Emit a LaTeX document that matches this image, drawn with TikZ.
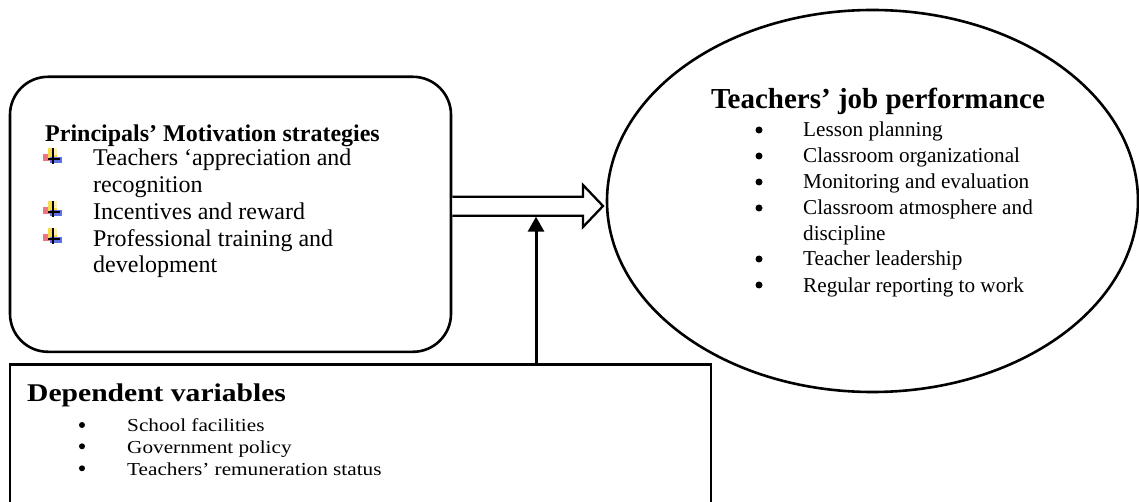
\documentclass[tikz,border=0pt]{standalone}
\usepackage{fontspec}
\setmainfont{Liberation Serif}
\newfontfamily\widefont[FakeStretch=1.16]{Liberation Serif}
\usetikzlibrary{shapes.geometric,arrows.meta}
\definecolor{icyellow}{HTML}{F4DA4C}
\definecolor{icred}{HTML}{E8485A}
\definecolor{icblue}{HTML}{3A4BE0}
\tikzset{
  wicon/.pic={
    \fill[icred!75] (-10,-2) rectangle (-1,5);
    \fill[icyellow] (-5,-8) rectangle (4,2);
    \fill[icyellow!40] (0,-8) rectangle (4,-1);
    \fill[icblue!80] (-3,1) rectangle (9,7);
    \draw[line width=1.4pt] (0,-8) -- (0,8);
    \draw[line width=1.4pt] (-5,3) -- (7,3);
  }
}
\begin{document}
\begin{tikzpicture}[x=1pt,y=-1pt,
  box/.style={draw, line width=2.6pt, inner sep=0pt},
  txt/.style={anchor=base west, inner sep=0pt},
  dot/.style={circle, fill, inner sep=0pt, minimum size=7pt},
  sdot/.style={circle, fill, inner sep=0pt, minimum size=6pt},
  ltxt/.style={txt, font=\fontsize{24}{27}\selectfont},
  etxt/.style={txt, font=\fontsize{21.2}{25}\selectfont},
  dtxt/.style={txt, font=\widefont\fontsize{18.3}{21}\selectfont},
]
\useasboundingbox (0,0) rectangle (1139,502);
\clip (0,0) rectangle (1139,502);

% shapes
\node[box, rounded corners=38pt, minimum width=441pt, minimum height=275pt] (mot) at (230.5,214.3) {};
\node[box, ellipse, minimum width=531pt, minimum height=382pt] (perf) at (872.5,201) {};
\node[box, line width=2.8pt, minimum width=701pt, minimum height=195pt] (dep) at (360.5,462) {};

% left box text
\node[txt, font=\bfseries\fontsize{24}{27}\selectfont] (mtitle) at (45,142) {Principals’ Motivation strategies};
\pic (i1) at (53,156) {wicon};
\node[ltxt] (m1a) at (93,166) {Teachers ‘appreciation and};
\node[ltxt] (m1b) at (93,192.7) {recognition};
\pic (i2) at (53,209) {wicon};
\node[ltxt] (m2) at (93,219.4) {Incentives and reward};
\pic (i3) at (53,236) {wicon};
\node[ltxt] (m3a) at (93,246.1) {Professional training and};
\node[ltxt] (m3b) at (93,272.8) {development};

% ellipse text
\node[anchor=base, inner sep=0pt, font=\bfseries\fontsize{29}{32}\selectfont] (ptitle) at (878,109) {Teachers’ job performance};
\node[dot] (pb1) at (759,130) {};
\node[etxt] (p1) at (803,137) {Lesson planning};
\node[dot] (pb2) at (759,156) {};
\node[etxt] (p2) at (803,163) {Classroom organizational};
\node[dot] (pb3) at (759,182) {};
\node[etxt] (p3) at (803,189) {Monitoring and evaluation};
\node[dot] (pb4) at (759,208) {};
\node[etxt] (p4a) at (803,215) {Classroom atmosphere and};
\node[etxt] (p4b) at (803,240.5) {discipline};
\node[dot] (pb5) at (759,259) {};
\node[etxt] (p5) at (803,266) {Teacher leadership};
\node[dot] (pb6) at (759,285) {};
\node[etxt] (p6) at (803,292) {Regular reporting to work};

% bottom box text
\node[txt, font=\widefont\bfseries\fontsize{25.5}{28}\selectfont] (dtitle) at (27,401.7) {Dependent variables};
\node[sdot] (db1) at (82,425) {};
\node[dtxt] (d1) at (127,431.7) {School facilities};
\node[sdot] (db2) at (82,446.3) {};
\node[dtxt] (d2) at (127,453) {Government policy};
\node[sdot] (db3) at (82,468.3) {};
\node[dtxt] (d3) at (127,475) {Teachers’ remuneration status};

% hollow arrow from mot to perf
\coordinate (tip) at (603,206);
\draw[line width=2.3pt, line join=miter, fill=white]
  (mot.east |- 0,196.7) -- (583,196.7) -- (583,185) -- (tip) -- (583,227) -- (583,215.7) -- (mot.east |- 0,215.7);

% vertical arrow from dep
\coordinate (vtip) at (536,216.7);
\draw[line width=3pt, -{Triangle[width=16pt,length=15pt]}] (dep.north -| vtip) -- (vtip);
\end{tikzpicture}
\end{document}
